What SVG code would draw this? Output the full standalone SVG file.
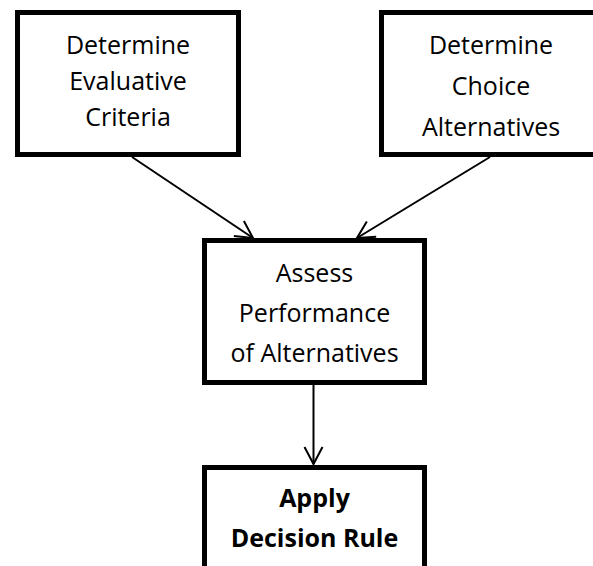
<svg xmlns="http://www.w3.org/2000/svg" width="593" height="566" viewBox="0 0 593 566">
<style>
.box{fill:#fff;stroke:#000;stroke-width:5}
.t{font-family:"Open Sans","Liberation Sans",sans-serif;font-size:25px;fill:#000;text-anchor:middle}
.b{font-weight:bold}
.c{stroke:#000;stroke-width:2;fill:none}
</style>
<defs>
<marker id="ah" markerUnits="userSpaceOnUse" markerWidth="24" markerHeight="24" viewBox="-20 -12 24 24" refX="0" refY="0" orient="auto" overflow="visible">
<path d="M-17,-9 L0,0 L-17,9" fill="none" stroke="#000" stroke-width="2"/>
</marker>
</defs>
<rect width="593" height="566" fill="#fff"/>
<g id="connectors">
<line class="c" x1="132" y1="157" x2="253" y2="238" marker-end="url(#ah)"/>
<line class="c" x1="490" y1="157" x2="357" y2="238" marker-end="url(#ah)"/>
<line class="c" x1="313.5" y1="385" x2="313.5" y2="464" marker-end="url(#ah)"/>
</g>
<g id="n1">
<rect class="box" x="17.5" y="12.5" width="221" height="142"/>
<text class="t" x="128" y="54">Determine</text>
<text class="t" x="128" y="90">Evaluative</text>
<text class="t" x="128" y="126">Criteria</text>
</g>
<g id="n2">
<rect class="box" x="381.5" y="12.5" width="221" height="142"/>
<text class="t" x="491" y="54">Determine</text>
<text class="t" x="491" y="95">Choice</text>
<text class="t" x="491" y="136">Alternatives</text>
</g>
<g id="n3">
<rect class="box" x="204.5" y="240.5" width="220" height="142"/>
<text class="t" x="314.5" y="282">Assess</text>
<text class="t" x="314.5" y="322">Performance</text>
<text class="t" x="314.5" y="362">of Alternatives</text>
</g>
<g id="n4">
<rect class="box" x="204.5" y="467.5" width="220" height="110"/>
<text class="t b" x="314.5" y="507">Apply</text>
<text class="t b" x="314.5" y="547">Decision Rule</text>
</g>
</svg>
